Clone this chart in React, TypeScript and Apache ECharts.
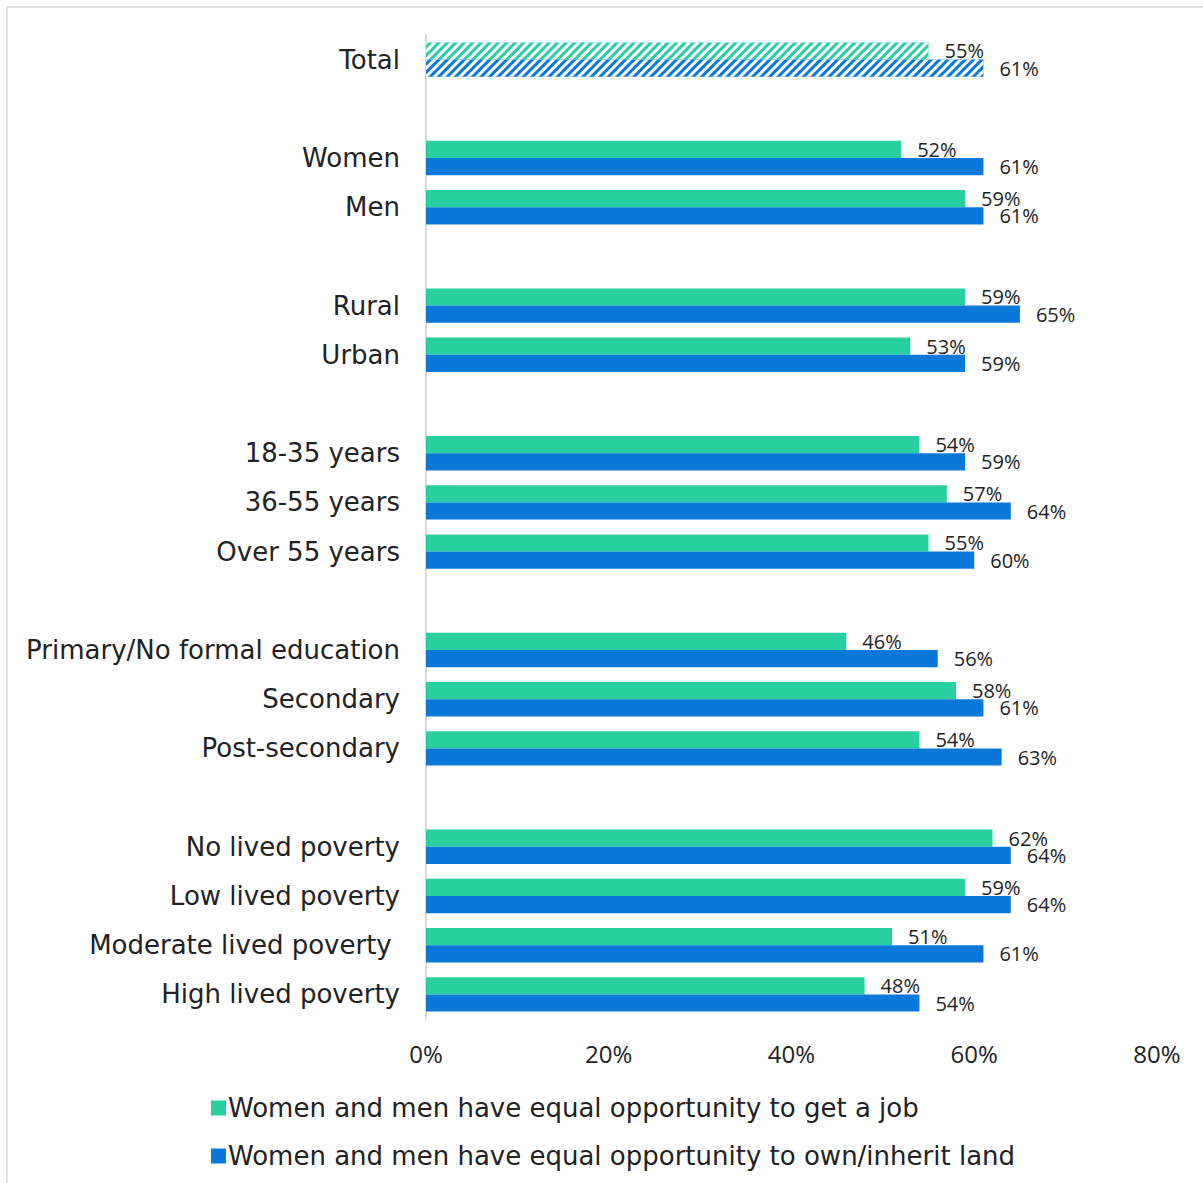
import React, { useEffect, useRef } from "react";
import * as echarts from "echarts";

const categories = [
  "Total", " ", "Women", "Men", "  ", "Rural", "Urban", "   ",
  "18-35 years", "36-55 years", "Over 55 years", "    ",
  "Primary/No formal education", "Secondary", "Post-secondary", "     ",
  "No lived poverty", "Low lived poverty", "Moderate lived poverty ", "High lived poverty",
];
const jobValues = [55, null, 52, 59, null, 59, 53, null, 54, 57, 55, null, 46, 58, 54, null, 62, 59, 51, 48];
const landValues = [61, null, 61, 61, null, 65, 59, null, 59, 64, 60, null, 56, 61, 63, null, 64, 64, 61, 54];
const xTicks = [0, 20, 40, 60, 80];
const seriesNames = [
  "Women and men have equal opportunity to get a job",
  "Women and men have equal opportunity to own/inherit land",
];

const GREEN = "#29D09F";
const BLUE = "#0A78D8";
const FONT = "'Open Sans', 'DejaVu Sans', sans-serif";
const WIDE = "'DejaVu Sans', sans-serif";

const hatch = {
  symbol: "rect",
  symbolSize: 1,
  dashArrayX: [1, 0],
  dashArrayY: [3, 3],
  rotation: -Math.PI / 4,
  color: "#ffffff",
};

function build(values: (number | null)[], color: string) {
  return values.map((v, i) =>
    v === null
      ? "-"
      : i === 0
      ? { value: v, itemStyle: { color, decal: hatch } }
      : v
  );
}

export default function App() {
  const ref = useRef<HTMLDivElement>(null);
  useEffect(() => {
    const chart = echarts.init(ref.current!, null, { renderer: "svg" });
    chart.setOption({
      animation: false,
      aria: { enabled: false },
      textStyle: { fontFamily: FONT },
      graphic: [
        {
          type: "rect",
          shape: { x: 7, y: 7, width: 1400, height: 1400 },
          style: { fill: "none", stroke: "#e3e3e3", lineWidth: 2 },
        },
      ],
      grid: { left: 426, right: 46, top: 35, bottom: 164, containLabel: false },
      xAxis: {
        type: "value",
        min: xTicks[0],
        max: xTicks[xTicks.length - 1],
        interval: 20,
        splitLine: { show: false },
        axisLine: { show: false },
        axisTick: { show: false },
        axisLabel: {
          formatter: (v: number) => v + "%",
          fontSize: 24,
          color: "#222",
          margin: 22,
          fontFamily: FONT,
        },
      },
      yAxis: {
        type: "category",
        data: categories,
        inverse: true,
        axisLine: { show: true, lineStyle: { color: "#d9d9d9", width: 2 } },
        axisTick: { show: false },
        axisLabel: { fontSize: 26, color: "#222", margin: 26, fontFamily: WIDE, padding: [0, 0, -4, 0] },
      },
      legend: {
        orient: "vertical",
        left: 206,
        top: 1090,
        icon: "rect",
        itemWidth: 15,
        itemHeight: 15,
        itemGap: 22,
        itemStyle: { borderWidth: 0 },
        textStyle: { fontSize: 26, color: "#222", fontFamily: WIDE, padding: [0, 0, 0, -3] },
        data: seriesNames,
      },
      series: [
        {
          name: seriesNames[0],
          type: "bar",
          data: build(jobValues, GREEN),
          itemStyle: { color: GREEN },
          barGap: "0%",
          barCategoryGap: "30%",
          label: {
            show: true,
            position: "right",
            distance: 16,
            formatter: "{c}%",
            fontSize: 20,
            color: "#222",
            fontFamily: FONT,
          },
        },
        {
          name: seriesNames[1],
          type: "bar",
          data: build(landValues, BLUE),
          itemStyle: { color: BLUE },
          barGap: "0%",
          barCategoryGap: "30%",
          label: {
            show: true,
            position: "right",
            distance: 16,
            formatter: "{c}%",
            fontSize: 20,
            color: "#222",
            fontFamily: FONT,
          },
        },
      ],
    });
    return () => chart.dispose();
  }, []);
  return (
    <div
      ref={ref}
      style={{ position: "absolute", left: 0, top: 0, width: 1203, height: 1183, background: "#fff" }}
    />
  );
}
